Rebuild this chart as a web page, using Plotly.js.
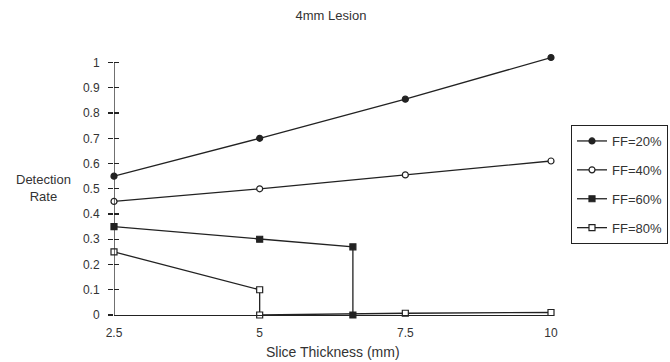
<!DOCTYPE html>
<html><head><meta charset="utf-8">
<script src="https://cdn.plot.ly/plotly-3.0.1.min.js"></script>
<style>html,body{margin:0;padding:0;background:#fff;}#chart{width:670px;height:362px;}</style>
</head><body><div id="chart"></div>
<script>
// Data
const ff20_x = [2.5, 5, 7.5, 10];
const ff20_y = [0.55, 0.70, 0.855, 1.02];
const ff40_x = [2.5, 5, 7.5, 10];
const ff40_y = [0.45, 0.50, 0.555, 0.61];
const ff60_x = [2.5, 5, 6.6, 6.6];
const ff60_y = [0.35, 0.30, 0.27, 0.0];
const ff80_x = [2.5, 5, 5, 7.5, 10];
const ff80_y = [0.25, 0.10, 0.0, 0.007, 0.01];
const xTicks = [2.5, 5, 7.5, 10];
const xTickText = ['2.5', '5', '7.5', '10'];
const yTicks = [0, 0.1, 0.2, 0.3, 0.4, 0.5, 0.6, 0.7, 0.8, 0.9, 1];
const yTickText = ['0', '0.1', '0.2', '0.3', '0.4', '0.5', '0.6', '0.7', '0.8', '0.9', '1'];
const seriesNames = ['FF=20%', 'FF=40%', 'FF=60%', 'FF=80%'];

const ink = '#222';
const txt = '#333';
const fontFam = 'Liberation Sans, Arial, sans-serif';

function tr(x, y, name, symbol, fill, grp) {
  return {
    x: x, y: y, name: name, type: 'scatter', mode: 'lines+markers',
    line: {color: ink, width: 1.3},
    marker: {symbol: symbol, size: 6, color: fill, line: {color: ink, width: 1.2}},
    cliponaxis: false, legendgroup: grp
  };
}

const data = [
  tr(ff20_x, ff20_y, seriesNames[0], 'circle', ink, 'a'),
  tr(ff40_x, ff40_y, seriesNames[1], 'circle', '#fff', 'b'),
  tr(ff60_x, ff60_y, seriesNames[2], 'square', ink, 'c'),
  tr(ff80_x, ff80_y, seriesNames[3], 'square', '#fff', 'd'),
  {x: [2.5], y: [0], yaxis: 'y2', type: 'scatter', mode: 'markers', marker: {opacity: 0}, showlegend: false, hoverinfo: 'skip'}
];

const layout = {
  width: 670, height: 362,
  margin: {l: 114, r: 119, t: 55, b: 47, autoexpand: false},
  paper_bgcolor: '#fff', plot_bgcolor: '#fff',
  font: {family: fontFam, color: txt, size: 12},
  title: {text: '4mm Lesion', font: {size: 13, color: txt, family: fontFam},
          x: 0.494, xanchor: 'center', y: 1 - 15/362, yanchor: 'middle'},
  xaxis: {range: [2.5, 10], tickvals: xTicks, ticktext: xTickText, showgrid: false, zeroline: false,
          showline: true, linecolor: ink, linewidth: 1.3, ticks: '', tickfont: {size: 12, color: txt},
          ticklabelstandoff: 6},
  yaxis: {range: [0, 1.03], tickvals: yTicks, ticktext: yTickText, showgrid: false, zeroline: false,
          showline: false, ticks: 'outside', ticklen: 5, tickwidth: 1.2, tickcolor: ink,
          tickfont: {size: 12, color: txt}, ticklabelstandoff: 6},
  yaxis2: {range: [0, 1.03], overlaying: 'y', anchor: 'x', side: 'left', tickvals: yTicks, showticklabels: false,
           showgrid: false, zeroline: false, showline: false, ticks: 'inside', ticklen: 5, tickwidth: 1.2, tickcolor: ink},
  shapes: [
    {type: 'line', xref: 'x', yref: 'y', x0: 2.5, x1: 2.5, y0: 0, y1: 1, line: {color: ink, width: 1.3}}
  ],
  annotations: [
    {text: 'Detection<br>Rate', xref: 'paper', yref: 'y', x: (43 - 114) / 437, y: 0.5026,
     xanchor: 'center', yanchor: 'middle', showarrow: false, font: {size: 13, color: txt}},
    {text: 'Slice Thickness (mm)', xref: 'paper', yref: 'paper', x: 0.5, y: (315 - 352) / 260,
     xanchor: 'center', yanchor: 'middle', showarrow: false, font: {size: 14, color: txt}}
  ],
  legend: {xref: 'container', yref: 'container', x: 571 / 670, y: 1 - 125 / 362, xanchor: 'left', yanchor: 'top',
           bordercolor: ink, borderwidth: 1, bgcolor: '#fff', font: {size: 13, color: txt},
           tracegroupgap: 9, traceorder: 'grouped', itemwidth: 30},
  showlegend: true
};

Plotly.newPlot('chart', data, layout, {displayModeBar: false, staticPlot: true});
</script></body></html>
